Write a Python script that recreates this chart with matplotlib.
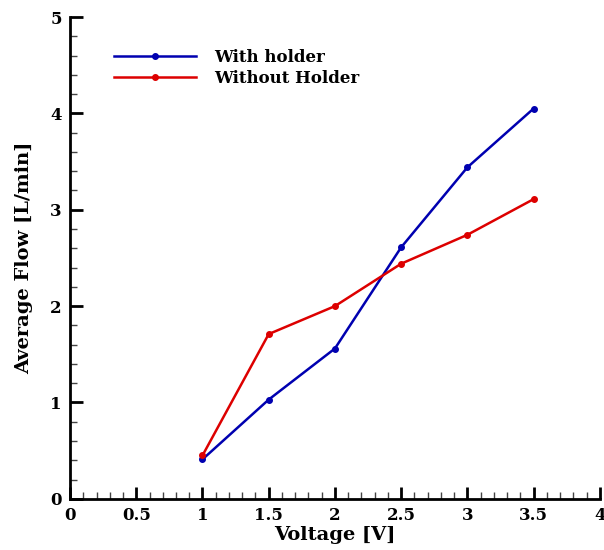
import numpy as np
from matplotlib import pyplot as plt
from matplotlib.ticker import MultipleLocator

# data
voltage = [1, 1.5, 2, 2.5, 3, 3.5]
with_holder = [0.41, 1.03, 1.56, 2.61, 3.44, 4.05]
without_holder = [0.45, 1.71, 2.00, 2.44, 2.74, 3.11]

plt.rcParams['font.family'] = ['DejaVu Serif']
plt.rcParams['font.weight'] = 'bold'

fig = plt.figure(figsize=(6.04, 5.5), dpi=100)
ax = fig.add_axes([0.116, 0.093, 0.877, 0.876])

ax.plot(voltage, with_holder, color="#0000b0", lw=1.8, marker="o", ms=4, label="With holder")
ax.plot(voltage, without_holder, color="#dd0000", lw=1.8, marker="o", ms=4, label="Without Holder")

ax.set_xlim(0, 4)
ax.set_ylim(0, 5)
ax.xaxis.set_major_locator(MultipleLocator(0.5))
ax.xaxis.set_minor_locator(MultipleLocator(0.1))
ax.yaxis.set_major_locator(MultipleLocator(1))
ax.yaxis.set_minor_locator(MultipleLocator(0.2))
ax.set_xticks([0, 0.5, 1, 1.5, 2, 2.5, 3, 3.5, 4])
ax.set_xticklabels(["0", "0.5", "1", "1.5", "2", "2.5", "3", "3.5", "4"])

for s in ["top", "right"]:
    ax.spines[s].set_visible(False)
for s in ["left", "bottom"]:
    ax.spines[s].set_linewidth(2)

ax.tick_params(which="major", direction="in", length=9, width=2, labelsize=12, pad=6)
ax.tick_params(which="minor", direction="in", length=5, width=1, color="#444444")

ax.set_xlabel("Voltage [V]", fontsize=14, fontweight="bold", labelpad=1)
ax.set_ylabel("Average Flow [L/min]", fontsize=14, fontweight="bold", labelpad=12)

ax.legend(loc="upper left", bbox_to_anchor=(0.055, 0.965), frameon=False,
          handlelength=4.9, handletextpad=1.1, labelspacing=0.25,
          prop={"size": 12, "weight": "bold"})

plt.savefig("out.png", dpi=100)
